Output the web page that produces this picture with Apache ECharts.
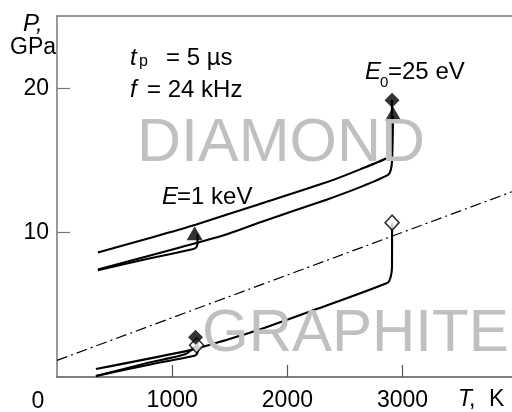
<!DOCTYPE html>
<html><head><meta charset="utf-8">
<script src="https://cdn.jsdelivr.net/npm/echarts@6/dist/echarts.min.js"></script>
<style>html,body{margin:0;padding:0;background:#fff}#c{width:512px;height:412px}</style>
</head><body><div id="c"></div>
<script>
// tick values
const xTickValues = [1000, 2000, 3000];
const yTickValues = [10, 20];
// dash-dot equilibrium line (T, P)
const equilibriumLine = [[0, 1.15], [3950, 12.83]];
// diamond region curves
const diamondCurveTop = [[355, 8.62], [814, 9.65], [1203, 10.55], [1749, 11.95], [2346, 13.5], [2632, 14.38], [2874, 15.2], [2893, 15.55], [2903, 16.2], [2908, 19.2]];
const diamondCurveMid = [[355, 7.45], [1420, 9.75], [1766, 10.72], [2346, 12.3], [2632, 13.15], [2874, 14.0], [2898, 14.35], [2909, 15.0], [2918, 18.1]];
const diamondCurve1keV = [[355, 7.40], [800, 8.2], [1175, 8.85], [1205, 8.95], [1218, 9.15], [1220, 9.9]];
// graphite region curves
const graphiteCurveMain = [[338, 0.55], [1160, 1.86], [1420, 2.45], [1766, 3.31], [2225, 4.62], [2874, 6.55], [2898, 6.97], [2908, 7.6], [2909, 10.69]];
const graphiteCurve1keVa = [[338, 0.07], [800, 0.85], [1186, 1.45], [1215, 1.6], [1221, 1.8], [1221, 2.5]];
const graphiteCurve1keVb = [[338, 0.07], [800, 1.0], [1117, 1.59], [1212, 2.2]];
// markers
const triangleMarkers = [[1195, 9.95], [2918, 18.24]];
const filledDiamondMarkers = [[2909, 19.17], [1203, 2.75]];
const openDiamondMarkers = [[2909, 10.69], [1212, 2.2]];

const FONT = '"Liberation Sans", Arial, Helvetica, sans-serif';
const chart = echarts.init(document.getElementById('c'), null, {renderer: 'canvas'});

function curve(data) {
  return {type: 'line', data: data, symbol: 'none', smooth: 0.2, z: 3,
    lineStyle: {color: '#000', width: 2.1}, silent: true};
}
function txt(x, y, text, size, opts) {
  opts = opts || {};
  return {type: 'text', x: x, y: y, z: opts.z || 10, silent: true,
    style: {text: text, fill: opts.color || '#000',
      font: (opts.italic ? 'italic ' : '') + size + 'px ' + FONT,
      textAlign: opts.align || 'left', textVerticalAlign: 'middle'}};
}
const plain = function (v) { return String(v); };

const option = {
  animation: false,
  backgroundColor: '#fff',
  grid: {left: 57, right: 0, top: 16, bottom: 34},
  xAxis: [{
    type: 'value', min: 0, max: 3950,
    axisLine: {show: true, onZero: false, lineStyle: {color: '#555', width: 1.5}},
    axisTick: {show: true, inside: true, length: 12, customValues: xTickValues, lineStyle: {color: '#555', width: 1.2}},
    axisLabel: {show: true, customValues: xTickValues, formatter: plain, fontSize: 23, fontFamily: FONT, color: '#000', margin: 12},
    splitLine: {show: false}
  }, {
    type: 'value', position: 'top', min: 0, max: 3950,
    axisLine: {show: true, onZero: false, lineStyle: {color: '#777', width: 1.5}},
    axisTick: {show: false}, axisLabel: {show: false}, splitLine: {show: false}
  }],
  yAxis: {
    type: 'value', min: 0, max: 25,
    axisLine: {show: true, onZero: false, lineStyle: {color: '#777', width: 1.5}},
    axisTick: {show: true, inside: true, length: 13, customValues: yTickValues, lineStyle: {color: '#777', width: 1.2}},
    axisLabel: {show: true, customValues: yTickValues, formatter: plain, fontSize: 23, fontFamily: FONT, color: '#000', margin: 8},
    splitLine: {show: false}
  },
  series: [
    {type: 'line', data: equilibriumLine, symbol: 'none', z: 2, silent: true,
      lineStyle: {color: '#000', width: 1.2, type: [11, 4, 2, 4]}},
    curve(diamondCurveTop),
    curve(diamondCurveMid),
    curve(diamondCurve1keV),
    curve(graphiteCurveMain),
    curve(graphiteCurve1keVa),
    curve(graphiteCurve1keVb),
    {type: 'scatter', data: openDiamondMarkers, symbol: 'diamond', symbolSize: [14, 15], z: 4,
      itemStyle: {color: '#fff', borderColor: '#000', borderWidth: 1.6}},
    {type: 'scatter', data: triangleMarkers, symbol: 'triangle', symbolSize: [16, 14], z: 5,
      itemStyle: {color: '#000'}},
    {type: 'scatter', data: filledDiamondMarkers, symbol: 'diamond', symbolSize: [15, 15], z: 6,
      itemStyle: {color: '#000'}}
  ],
  graphic: [
    txt(137, 144, 'DIAMOND', 61, {color: '#c0c0c0', z: 0}),
    txt(202, 334, 'GRAPHITE', 60, {color: '#c0c0c0', z: 0}),
    txt(23, 24, 'P,', 24, {italic: true}),
    txt(10, 48, 'GPa', 23),
    txt(130, 58, 't', 24, {italic: true}),
    txt(139, 62, 'p', 16),
    txt(166, 58, '= 5 \u00b5s', 24),
    txt(130, 90.5, 'f', 24, {italic: true}),
    txt(147, 90.5, '= 24 kHz', 24),
    txt(365, 72.5, 'E', 24, {italic: true}),
    txt(380, 83, '0', 15),
    txt(388, 72.5, '=25 eV', 24),
    txt(162, 197.5, 'E', 24, {italic: true}),
    txt(177, 197.5, '=1 keV', 24),
    txt(38, 402, '0', 23, {align: 'center'}),
    txt(458, 400, 'T', 23, {italic: true}),
    txt(469, 400, ',', 23),
    txt(489, 400, 'K', 23)
  ]
};
chart.setOption(option);
</script>
</body></html>
